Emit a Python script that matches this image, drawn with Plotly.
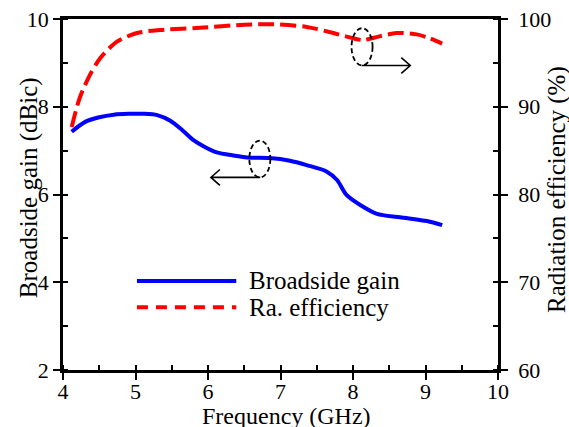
import plotly.graph_objects as go

# ---- data ----
freq_gain = [4.12, 4.3, 4.5, 4.7, 4.9, 5.1, 5.3, 5.48, 5.65, 5.8, 5.95, 6.12, 6.35, 6.58,
             6.85, 7.13, 7.36, 7.64, 7.78, 7.91, 8.1, 8.33, 8.65, 9.06, 9.23]
gain = [7.43, 7.65, 7.76, 7.82, 7.84, 7.84, 7.81, 7.68, 7.46, 7.24, 7.09, 6.96, 6.89, 6.84,
        6.83, 6.77, 6.67, 6.52, 6.33, 5.99, 5.76, 5.56, 5.48, 5.38, 5.30]

freq_eff = [4.12, 4.23, 4.37, 4.51, 4.74, 5.02, 5.34, 5.89, 6.5, 6.9, 7.36, 7.73, 8.0,
            8.14, 8.3, 8.6, 8.88, 9.06, 9.23]
eff = [87.7, 91.0, 93.6, 95.5, 97.4, 98.4, 98.75, 99.0, 99.35, 99.4, 99.1, 98.4, 97.8,
       97.6, 97.9, 98.4, 98.25, 97.8, 97.2]

x_ticks = [4, 5, 6, 7, 8, 9, 10]
gain_ticks = [2, 4, 6, 8, 10]
eff_ticks = [60, 70, 80, 90, 100]

series_names = ["Broadside gain", "Ra. efficiency"]
x_title = "Frequency (GHz)"
y_title = "Broadside gain (dBic)"
y2_title = "Radiation efficiency (%)"

FONT = "Times New Roman, Liberation Serif, Tinos, DejaVu Serif, serif"
BLUE = "#0000ff"
RED = "#ff0000"

fig = go.Figure()
fig.add_trace(go.Scatter(x=freq_gain, y=gain, mode="lines", name=series_names[0],
                         line=dict(color=BLUE, width=4, shape="spline", smoothing=0.8),
                         showlegend=False, yaxis="y"))
fig.add_trace(go.Scatter(x=freq_eff, y=eff, mode="lines", name=series_names[1],
                         line=dict(color=RED, width=4, dash="16px,6px", shape="spline", smoothing=0.8),
                         showlegend=False, yaxis="y2"))

axis_common = dict(showgrid=False, zeroline=False, showline=True, linecolor="black",
                   linewidth=2.5, ticks="outside", ticklen=7, tickwidth=2, tickcolor="black",
                   automargin=False,
                   tickfont=dict(family=FONT, size=22, color="black"))

fig.update_layout(
    width=569, height=427,
    margin=dict(l=63, r=71, t=19, b=57),
    paper_bgcolor="white", plot_bgcolor="white",
    font=dict(family=FONT, color="black"),
    xaxis=dict(range=[4, 10], tickvals=x_ticks, mirror=True,
               minor=dict(dtick=0.5, ticks="inside", ticklen=5, tickwidth=2, tickcolor="black"),
               ticklabelstandoff=-7,
               **axis_common),
    yaxis=dict(range=[2, 10], tickvals=gain_ticks,
               minor=dict(dtick=1, ticks="inside", ticklen=5, tickwidth=2, tickcolor="black"),
               **axis_common),
    yaxis2=dict(range=[60, 100], tickvals=eff_ticks, overlaying="y", side="right",
                minor=dict(dtick=5, ticks="inside", ticklen=5, tickwidth=2, tickcolor="black"),
                ticklabelstandoff=6,
                **axis_common),
)

# ---- axis titles (placed as annotations for exact positioning) ----
fig.add_annotation(text=x_title, xref="paper", yref="paper", x=0.5, y=0, xshift=6, yshift=-46,
                   xanchor="center", yanchor="middle", showarrow=False,
                   font=dict(family=FONT, size=24, color="black"))
fig.add_annotation(text=y_title, xref="paper", yref="paper", x=0, y=0.518, xshift=-34,
                   xanchor="center", yanchor="middle", textangle=-90, showarrow=False,
                   font=dict(family=FONT, size=25, color="black"))
fig.add_annotation(text=y2_title, xref="paper", yref="paper", x=1, y=0.513, xshift=59,
                   xanchor="center", yanchor="middle", textangle=-90, showarrow=False,
                   font=dict(family=FONT, size=25, color="black"))

# ---- annotations: ellipses and arrows ----
ell_style = dict(color="black", width=1.8, dash="5px,3px")
fig.add_shape(type="circle", xref="x", yref="y", x0=7.98, x1=8.27, y0=8.94, y1=9.79, line=ell_style)
fig.add_shape(type="circle", xref="x", yref="y", x0=6.57, x1=6.86, y0=6.39, y1=7.23, line=ell_style)
arrow_style = dict(color="black", width=1.6)
fig.add_shape(type="path", xref="x", yref="y", line=arrow_style,
              path="M 8.12,8.94 L 8.79,8.94 M 8.666,9.12 L 8.79,8.94 L 8.666,8.76")
fig.add_shape(type="path", xref="x", yref="y", line=arrow_style,
              path="M 6.72,6.39 L 6.04,6.39 M 6.164,6.57 L 6.04,6.39 L 6.164,6.21")

# ---- manual legend ----
leg_y = [4.03, 3.43]
fig.add_shape(type="line", xref="x", yref="y", x0=5.02, x1=6.39, y0=leg_y[0], y1=leg_y[0],
              line=dict(color=BLUE, width=4))
fig.add_shape(type="line", xref="x", yref="y", x0=5.02, x1=6.39, y0=leg_y[1], y1=leg_y[1],
              line=dict(color=RED, width=4, dash="11px,8px"))
for name, yy in zip(series_names, leg_y):
    fig.add_annotation(x=6.54, y=yy, xref="x", yref="y", text=name, showarrow=False,
                       xanchor="left", yanchor="middle",
                       font=dict(family=FONT, size=25, color="black"))

fig.write_html("out.html")
